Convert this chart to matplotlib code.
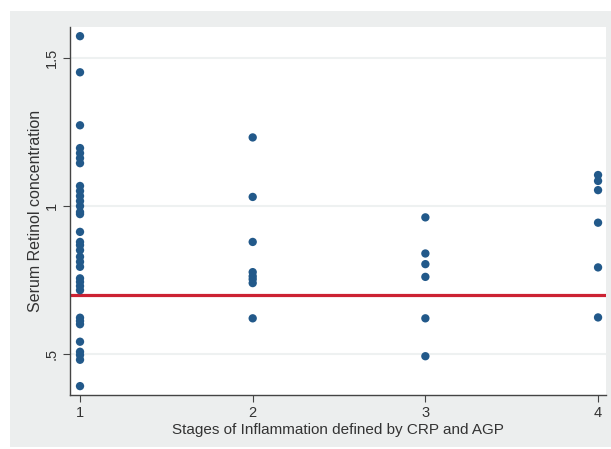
import numpy as np
import matplotlib.pyplot as plt
from matplotlib.patches import Rectangle

plt.rcParams['font.family'] = ['Liberation Sans', 'DejaVu Sans']

# serum retinol by stage of inflammation
stage1 = [1.573, 1.451, 1.272, 1.195, 1.178, 1.161, 1.144, 1.067, 1.050, 1.033,
          1.016, 0.999, 0.979, 0.972, 0.912, 0.878, 0.867, 0.850, 0.828, 0.811,
          0.794, 0.755, 0.743, 0.729, 0.715, 0.622, 0.611, 0.600, 0.541, 0.507,
          0.496, 0.480, 0.391]
stage2 = [1.231, 1.030, 0.878, 0.776, 0.762, 0.752, 0.739, 0.620]
stage3 = [0.961, 0.839, 0.803, 0.760, 0.620, 0.492]
stage4 = [1.104, 1.084, 1.053, 0.943, 0.792, 0.623]
cutoff = 0.7

x_ticks = [1, 2, 3, 4]
y_ticks = [0.5, 1.0, 1.5]
y_ticklabels = ['.5', '1', '1.5']

W, H = 611, 449
fig = plt.figure(figsize=(W / 100, H / 100), dpi=100)
fig.patch.set_facecolor('white')
bg = Rectangle((10 / W, 2 / H), 1, (H - 13) / H, transform=fig.transFigure,
               facecolor='#eceeee', edgecolor='none', zorder=-10)
fig.add_artist(bg)

ax = fig.add_axes([70 / W, (H - 395) / H, 536 / W, 368 / H])
ax.set_facecolor('white')

for st, vals in zip(x_ticks, [stage1, stage2, stage3, stage4]):
    ax.scatter([st] * len(vals), vals, s=36, color='#22598a', edgecolors='none', zorder=3)

ax.axhline(cutoff, color='#cc2233', lw=2.3, zorder=2)

ax.set_xlim(0.942, 4.046)
ax.set_ylim(0.361, 1.604)
ax.set_xticks(x_ticks)
ax.set_yticks(y_ticks)
ax.set_yticklabels(y_ticklabels, rotation=90, va='center')
ax.grid(axis='y', color='#eef1f1', lw=1.5, zorder=0)
ax.set_axisbelow(True)

for s in ['top', 'right']:
    ax.spines[s].set_visible(False)
for s in ['left', 'bottom']:
    ax.spines[s].set_color('#444444')
    ax.spines[s].set_linewidth(1.0)
ax.tick_params(axis='both', direction='out', length=5, width=0.8, colors='#444444',
               labelcolor='#333333', labelsize=10.5, pad=3)

ax.set_xlabel('Stages of Inflammation defined by CRP and AGP', fontsize=11,
              color='#333333', labelpad=2)
ax.set_ylabel('Serum Retinol concentration', fontsize=11.5, color='#333333', labelpad=1)

fig.savefig('out.png', dpi=100)
